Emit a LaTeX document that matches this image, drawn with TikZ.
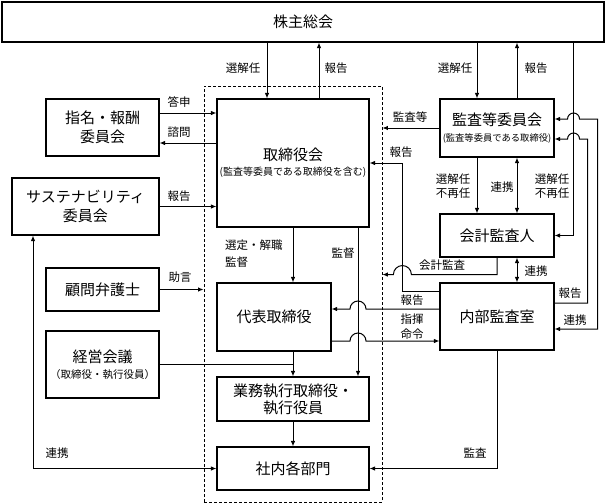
\documentclass[tikz,border=0pt]{standalone}
\usepackage{fontspec}
\newfontfamily\jp{Noto Sans CJK JP}
\usetikzlibrary{arrows.meta,calc}
\begin{document}
\begin{tikzpicture}[x=1pt,y=-1pt,
  box/.style={draw, line width=1.1pt, fill=white, align=center, inner sep=0pt, font=\jp\fontsize{15}{19}\selectfont},
  lab/.style={inner sep=0pt, align=center, font=\jp\fontsize{11.5}{14}\selectfont},
  con/.style={line width=1pt},
  arr/.style={con, -{Latex[length=5.5pt,width=4.5pt]}},
  arrb/.style={con, {Latex[length=5.5pt,width=4.5pt]}-{Latex[length=5.5pt,width=4.5pt]}}]
\useasboundingbox (0,0) rectangle (606,504);
\node[draw, line width=0.8pt, dash pattern=on 3pt off 2pt, minimum width=178pt, minimum height=416pt, inner sep=0pt] (grp) at (293,294) {};
% boxes
\node[box, minimum width=602pt, minimum height=40pt] (sh) at (303,22) {株主総会};
\node[box, minimum width=152pt, minimum height=128pt, font=\jp\fontsize{15}{15.3}\selectfont] (tb) at (293,163) {取締役会\\{\fontsize{10}{15.3}\selectfont(監査等委員である取締役を含む)}};
\node[box, minimum width=113pt, minimum height=57pt] (nom) at (102.5,127.5) {指名・報酬\\委員会};
\node[box, minimum width=147pt, minimum height=57pt] (sus) at (85.5,206.5) {サステナビリティ\\委員会};
\node[box, minimum width=113pt, minimum height=43pt] (kom) at (102.5,289.5) {顧問弁護士};
\node[box, minimum width=113pt, minimum height=67pt, font=\jp\fontsize{15}{16.5}\selectfont] (kei) at (102.5,364.5) {経営会議\\{\fontsize{10.5}{16.5}\selectfont（取締役・執行役員）}};
\node[box, minimum width=114pt, minimum height=68pt] (rep) at (274,317) {代表取締役};
\node[box, minimum width=152pt, minimum height=44pt, font=\jp\fontsize{15}{17}\selectfont] (exe) at (293,399) {業務執行取締役・\\執行役員};
\node[box, minimum width=152pt, minimum height=43pt] (dep) at (293,468.5) {社内各部門};
\node[box, minimum width=114pt, minimum height=58pt, font=\jp\fontsize{15}{15.3}\selectfont] (aud) at (497,128) {監査等委員会\\{\fontsize{9.3}{15.3}\selectfont(監査等委員である取締役)}};
\node[box, minimum width=114pt, minimum height=43pt] (acc) at (497,235.5) {会計監査人};
\node[box, minimum width=114pt, minimum height=67pt] (ia) at (497,316.5) {内部監査室};
% helper coordinates
\coordinate (c1) at ($(tb.north)+(-26,0)$);
\coordinate (c2) at ($(tb.north)+(26,0)$);
\coordinate (c3) at ($(aud.north)+(-20,0)$);
\coordinate (c4) at ($(aud.north)+(20,0)$);
\coordinate (v1) at ($(aud.east)+(19,0)$);
\coordinate (v2) at ($(aud.east)+(33,0)$);
\coordinate (v3) at ($(aud.east)+(43,0)$);
\coordinate (a1) at ($(nom.east)+(0,-14.5)$);
\coordinate (a2) at ($(nom.east)+(0,15.5)$);
\coordinate (s1) at ($(tb.south)+(65,0)$);
\coordinate (l1) at ($(sus.south)+(-52.5,0)$);
\coordinate (k) at ($(grp.east)+(20,0)$);
\coordinate (r1) at ($(ia.west)+(0,-25.5)$);
\coordinate (g1) at ($(acc.south)+(0,17)$);
\coordinate (r2) at ($(ia.west)+(0,-7.5)$);
\coordinate (r3) at ($(ia.west)+(0,24.5)$);
\coordinate (d1) at ($(aud.south)+(-20,0)$);
\coordinate (d2) at ($(aud.south)+(20,0)$);
\coordinate (d3) at ($(acc.south)+(20,0)$);
\coordinate (e1) at ($(ia.east)+(0,-13.5)$);
\coordinate (e2) at ($(aud.east)+(0,11)$);
\coordinate (f1) at ($(ia.east)+(0,12.5)$);
\coordinate (f2) at ($(aud.east)+(0,-9)$);
% connectors
\draw[arr] (c1 |- sh.south) -- (c1);
\draw[arr] (c2) -- (c2 |- sh.south);
\draw[arr] (c3 |- sh.south) -- (c3);
\draw[arr] (c4) -- (c4 |- sh.south);
\draw[arr] (v1 |- sh.south) -- (v1 |- acc.east) -- (acc.east);
\draw[arr] (a1) -- (a1 -| tb.west);
\draw[arr] (a2 -| tb.west) -- (a2);
\draw[arr] (sus.east) -- (sus.east -| tb.west);
\draw[arr] (kom.east) -- (kom.east -| grp.west);
\draw[con] (kei.east) -- (kei.east -| exe.north);
\draw[arr] (tb.south) -- (tb.south |- rep.north);
\draw[arr] (exe.north |- rep.south) -- (exe.north);
\draw[arr] (s1) -- (s1 |- exe.north);
\draw[arr] (exe.south) -- (dep.north);
\draw[arrb] (l1) -- (l1 |- dep.west) -- (dep.west);
\draw[arr] (ia.south) -- (ia.south |- dep.east) -- (dep.east);
\draw[arr] (aud.west) -- (aud.west -| grp.east);
\draw[arr] (r1) -- (r1 -| k) -- (k |- tb.east) -- (tb.east);
\draw[arr] (acc.south) -- (g1) -- ($(g1 -| k)+(9,0)$) arc[start angle=0,end angle=180,radius=9pt] -- (g1 -| grp.east);
\draw[arr] (r2) -- ($(r2 -| s1)+(8,0)$) arc[start angle=0,end angle=180,radius=8pt] -- (r2 -| rep.east);
\draw[arr] (r3 -| rep.east) -- ($(r3 -| s1)+(-8,0)$) arc[start angle=180,end angle=0,radius=8pt] -- (r3);
\draw[arr] (d1) -- (d1 |- acc.north);
\draw[arrb] (d2) -- (d2 |- acc.north);
\draw[arrb] (d3) -- (d3 |- ia.north);
\draw[arr] (e1) -- (e1 -| v2) -- (v2 |- e2) -- ($(v1 |- e2)+(6,0)$) arc[start angle=0,end angle=180,radius=6pt] -- (e2);
\draw[arrb] (f1) -- (f1 -| v3) -- (v3 |- f2) -- ($(v1 |- f2)+(6,0)$) arc[start angle=0,end angle=180,radius=6pt] -- (f2);
% labels
\node[lab] (t1) at (243,68) {選解任};
\node[lab] (t2) at (336,68) {報告};
\node[lab] (t3) at (455,68) {選解任};
\node[lab] (t4) at (536,68) {報告};
\node[lab] (t5) at (179,102) {答申};
\node[lab] (t6) at (179,132) {諮問};
\node[lab] (t7) at (179,196) {報告};
\node[lab] (t8) at (180,277) {助言};
\node[lab, anchor=west, align=left, font=\jp\fontsize{11.5}{17}\selectfont] (t9) at (225,253.5) {選定・解職\\監督};
\node[lab] (t10) at (343,253) {監督};
\node[lab] (t11) at (410,117) {監査等};
\node[lab] (t12) at (401,152) {報告};
\node[lab] (t13) at (453,186) {選解任\\不再任};
\node[lab] (t14) at (502,187) {連携};
\node[lab] (t15) at (552,186) {選解任\\不再任};
\node[lab] (t16) at (442,265) {会計監査};
\node[lab] (t17) at (536,271) {連携};
\node[lab] (t18) at (412,300) {報告};
\node[lab, font=\jp\fontsize{11.5}{15}\selectfont] (t19) at (412,326.5) {指揮\\命令};
\node[lab] (t20) at (570,293) {報告};
\node[lab] (t21) at (575,320) {連携};
\node[lab] (t22) at (57,453) {連携};
\node[lab] (t23) at (475,453) {監査};
\end{tikzpicture}
\end{document}
